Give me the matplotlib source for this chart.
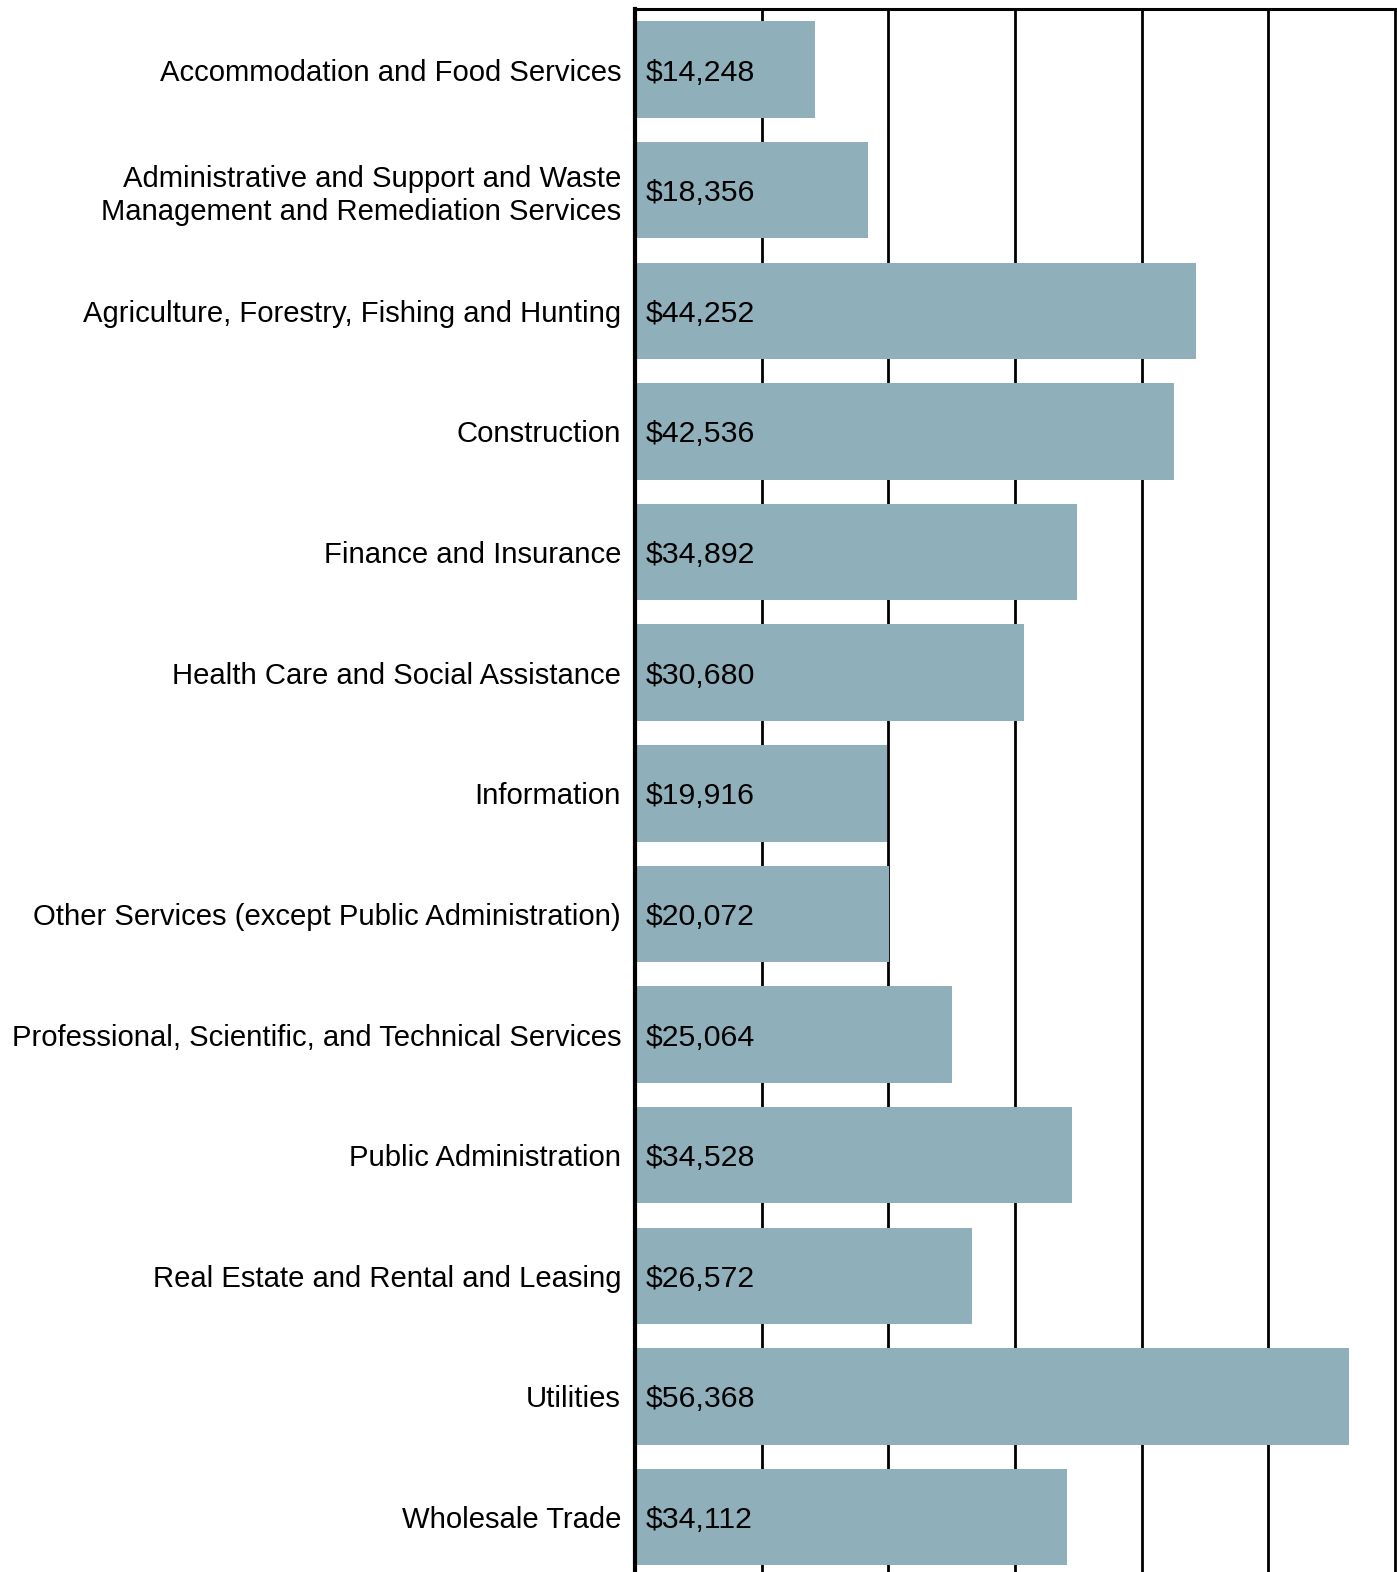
import matplotlib
matplotlib.use("Agg")
import matplotlib.pyplot as plt

plt.rcParams['font.family'] = ['Liberation Sans', 'DejaVu Sans']

categories = [
    "Accommodation and Food Services",
    "Administrative and Support and Waste\nManagement and Remediation Services",
    "Agriculture, Forestry, Fishing and Hunting",
    "Construction",
    "Finance and Insurance",
    "Health Care and Social Assistance",
    "Information",
    "Other Services (except Public Administration)",
    "Professional, Scientific, and Technical Services",
    "Public Administration",
    "Real Estate and Rental and Leasing",
    "Utilities",
    "Wholesale Trade",
]
values = [14248, 18356, 44252, 42536, 34892, 30680, 19916, 20072, 25064,
          34528, 26572, 56368, 34112]
grid_ticks = [10000, 20000, 30000, 40000, 50000, 60000]

W, H = 1397, 1572
fig = plt.figure(figsize=(W / 100, H / 100), dpi=100)
ax = fig.add_axes([635 / W, 0, (1395 - 635) / W, (H - 8.5) / H])

ypos = list(range(len(categories)))
ax.barh(ypos, values, height=0.8, color="#8FAFBA", zorder=2)

# vertical grid lines behind the bars
for x in grid_ticks:
    ax.axvline(x, color="black", lw=2, zorder=1, clip_on=False)

for y, v in zip(ypos, values):
    ax.text(830, y, f"${v:,}", va="center_baseline", ha="left", fontsize=21.8,
            color="black", zorder=3)

ax.set_xlim(0, 60000)
ax.set_ylim(12.456, -0.506)
ax.set_yticks(ypos)
ax.set_yticklabels(categories, fontsize=21.1, linespacing=1.22)
ax.tick_params(axis="y", length=0, pad=10)
ax.set_xticks([])

for s in ["right", "bottom"]:
    ax.spines[s].set_visible(False)
ax.spines["left"].set_linewidth(3)
ax.spines["top"].set_linewidth(2.2)

fig.savefig("out.png", dpi=100)
